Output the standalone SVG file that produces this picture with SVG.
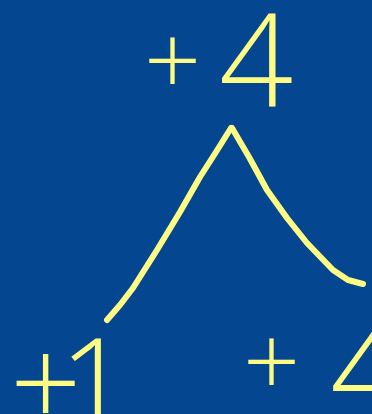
<svg xmlns="http://www.w3.org/2000/svg" width="372" height="414" viewBox="0 0 372 414">
<style>
.t{fill:#fdfb84;font-family:"Open Sans","Liberation Sans",sans-serif;font-weight:300}
.c{fill:none;stroke:#fdfb84;stroke-width:6;stroke-linecap:round;stroke-linejoin:round}
</style>
<rect width="372" height="414" fill="#04468f"/>
<g id="top"><text class="t"><tspan x="144" y="96" font-size="100">+</tspan><tspan x="219" y="107" font-size="130">4</tspan></text></g>
<g id="left"><text class="t" x="10" y="428" font-size="125" letter-spacing="-22">+1</text></g>
<g id="right"><text class="t"><tspan x="243" y="397" font-size="100">+</tspan><tspan x="330" y="416" font-size="135">4</tspan></text></g>
<g id="connectors">
<polyline class="c" points="107,320 120,305 133,288 157,250 180,212 200,177 216,152 231,128"/>
<polyline class="c" points="232,128 249,157 267,190 287,218 307,243 333,270 348,280 363,284"/>
</g>
</svg>
